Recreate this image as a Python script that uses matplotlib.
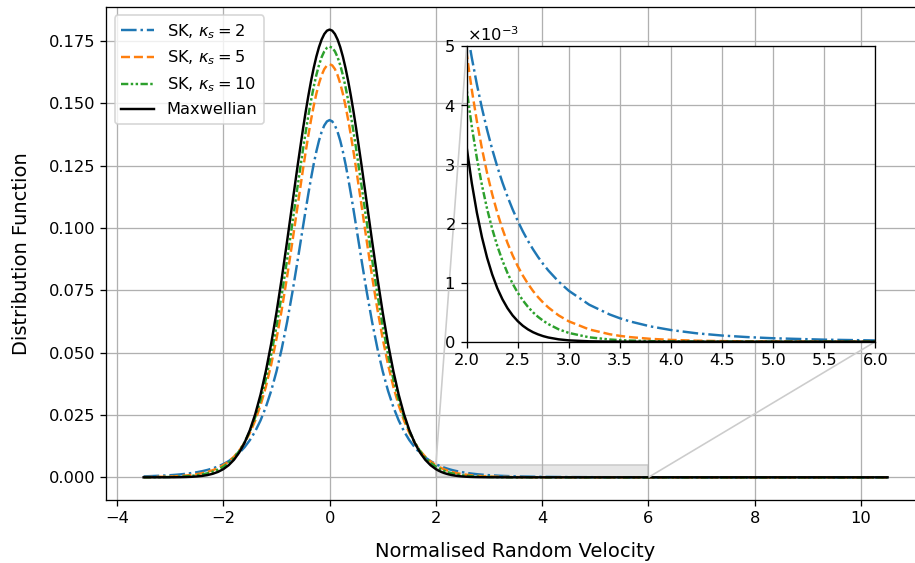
import matplotlib
matplotlib.use('Agg')
import matplotlib.pyplot as plt
from mpl_toolkits.axes_grid1.inset_locator import mark_inset

# normalised random velocity samples
velocity = [
    -3.5, -3.4, -3.2,
    -3.0, -2.9, -2.8, -2.7, -2.6, -2.5, -2.4, -2.3, -2.2, -2.1,
    -2.0, -1.9, -1.8, -1.7, -1.6, -1.5, -1.4, -1.3, -1.2, -1.1,
    -1.0, -0.9, -0.8, -0.7, -0.6, -0.5,
    -0.45, -0.4, -0.35, -0.3, -0.25, -0.2, -0.15, -0.1, -0.05,
    0.0,
    0.05, 0.1, 0.15, 0.2, 0.25, 0.3, 0.35, 0.4, 0.45,
    0.5, 0.6, 0.7, 0.8, 0.9, 1.0,
    1.1, 1.2, 1.3, 1.4, 1.5, 1.6, 1.7, 1.8, 1.9, 2.0,
    2.05, 2.1, 2.15, 2.2, 2.25, 2.3, 2.35, 2.4, 2.45, 2.5, 2.55, 2.6, 2.65, 2.7, 2.75, 2.8,
    2.9, 3.0,
    3.2, 3.4, 3.5, 3.6, 3.8, 4.0, 4.25, 4.5, 4.75, 5.0, 5.5, 6.0,
    7.0, 8.0, 9.0, 10.0, 10.5,
]

sk_kappa2 = [
    0.000396, 0.000460, 0.000625,
    0.000861, 0.001016, 0.001203, 0.001430, 0.001705, 0.002042, 0.002453, 0.002959, 0.003582, 0.004352,
    0.005307, 0.006493, 0.00797, 0.00980, 0.01209, 0.01493, 0.01846, 0.02282, 0.02816, 0.03466,
    0.04246, 0.05166, 0.06230, 0.07425, 0.08721, 0.10064,
    0.10729, 0.11375, 0.11989, 0.12557, 0.13065, 0.13503, 0.13856, 0.14116, 0.14276,
    0.14329,
    0.14276, 0.14116, 0.13856, 0.13503, 0.13065, 0.12557, 0.11989, 0.11375, 0.10729,
    0.10064, 0.08721, 0.07425, 0.06230, 0.05166, 0.04246,
    0.03466, 0.02816, 0.02282, 0.01846, 0.01493, 0.01209, 0.00980, 0.00797, 0.006493, 0.005307,
    0.004804, 0.004352, 0.003947, 0.003582, 0.003254, 0.002959, 0.002693, 0.002453,
    0.002237, 0.002042, 0.001865, 0.001705, 0.001561, 0.001430, 0.001311, 0.001203,
    0.001016, 0.000861,
    0.000625, 0.000460, 0.000396, 0.000342, 0.000258, 0.000197, 0.000142, 0.000104, 0.0000774, 0.0000582,
    0.0000342, 0.0000209,
    0.0000086, 0.0000040, 0.0000020, 0.0000011, 0.0000008,
]

sk_kappa5 = [
    0.0000983, 0.000126, 0.000207,
    0.000344, 0.000445, 0.000578, 0.000751, 0.000979, 0.001277, 0.001668, 0.002181, 0.002852, 0.003729,
    0.004872, 0.006356, 0.00827, 0.01073, 0.01387, 0.01783, 0.02278, 0.02888, 0.03630, 0.04515,
    0.05550, 0.06731, 0.08045, 0.09457, 0.10919, 0.12366,
    0.13059, 0.13718, 0.14331, 0.14889, 0.15381, 0.15798, 0.16131, 0.16374, 0.16522,
    0.16571,
    0.16522, 0.16374, 0.16131, 0.15798, 0.15381, 0.14889, 0.14331, 0.13718, 0.13059,
    0.12366, 0.10919, 0.09457, 0.08045, 0.06731, 0.05550,
    0.04515, 0.03630, 0.02888, 0.02278, 0.01783, 0.01387, 0.01073, 0.00827, 0.006356, 0.004872,
    0.004263, 0.003729, 0.003262, 0.002852, 0.002494, 0.002181, 0.001908, 0.001668,
    0.001460, 0.001277, 0.001118, 0.000979, 0.000857, 0.000751, 0.000659, 0.000578,
    0.000445, 0.000344,
    0.000207, 0.000126, 0.0000983, 0.0000772, 0.0000480, 0.0000302, 0.0000172, 0.0000100, 0.0000059, 0.0000036,
    0.0000014, 0.0000005,
    0.0, 0.0, 0.0, 0.0, 0.0,
]

sk_kappa10 = [
    0.0000261, 0.0000369, 0.0000740,
    0.000148, 0.000210, 0.000297, 0.000418, 0.000589, 0.000828, 0.001160, 0.001618, 0.002247, 0.003105,
    0.004266, 0.005821, 0.00788, 0.01058, 0.01408, 0.01853, 0.02412, 0.03101, 0.03933, 0.04918,
    0.06055, 0.07334, 0.08731, 0.10207, 0.11708, 0.13166,
    0.13856, 0.14508, 0.15110, 0.15654, 0.16131, 0.16533, 0.16853, 0.17086, 0.17228,
    0.17275,
    0.17228, 0.17086, 0.16853, 0.16533, 0.16131, 0.15654, 0.15110, 0.14508, 0.13856,
    0.13166, 0.11708, 0.10207, 0.08731, 0.07334, 0.06055,
    0.04918, 0.03933, 0.03101, 0.02412, 0.01853, 0.01408, 0.01058, 0.00788, 0.005821, 0.004266,
    0.003642, 0.003105, 0.002643, 0.002247, 0.001908, 0.001618, 0.001371, 0.001160,
    0.000981, 0.000828, 0.000699, 0.000589, 0.000496, 0.000418, 0.000353, 0.000297,
    0.000210, 0.000148,
    0.0000740, 0.0000369, 0.0000261, 0.0000185, 0.0000093, 0.0000047, 0.0000020, 0.0000009, 0.0000004, 0.0000002,
    0.0, 0.0,
    0.0, 0.0, 0.0, 0.0, 0.0,
]

maxwellian = [
    0.0000009, 0.0000017, 0.0000064,
    0.0000222, 0.0000400, 0.0000707, 0.000123, 0.000208, 0.000347, 0.000566, 0.000905, 0.001420, 0.002183,
    0.003289, 0.004858, 0.00703, 0.00998, 0.01388, 0.01893, 0.02530, 0.03314, 0.04255, 0.05355,
    0.06607, 0.07989, 0.09469, 0.11002, 0.12529, 0.13986,
    0.14667, 0.15303, 0.15888, 0.16413, 0.16871, 0.17255, 0.17559, 0.17780, 0.17914,
    0.17959,
    0.17914, 0.17780, 0.17559, 0.17255, 0.16871, 0.16413, 0.15888, 0.15303, 0.14667,
    0.13986, 0.12529, 0.11002, 0.09469, 0.07989, 0.06607,
    0.05355, 0.04255, 0.03314, 0.02530, 0.01893, 0.01388, 0.00998, 0.00703, 0.004858, 0.003289,
    0.002686, 0.002183, 0.001765, 0.001420, 0.001137, 0.000905, 0.000718, 0.000566,
    0.000444, 0.000347, 0.000269, 0.000208, 0.000160, 0.000123, 0.0000933, 0.0000707,
    0.0000400, 0.0000222,
    0.0000064, 0.0000017, 0.0000009, 0.0000004, 0.0, 0.0, 0.0, 0.0, 0.0, 0.0,
    0.0, 0.0,
    0.0, 0.0, 0.0, 0.0, 0.0,
]

labels = [r'SK, $\kappa_s = 2$', r'SK, $\kappa_s = 5$', r'SK, $\kappa_s = 10$', 'Maxwellian']
series = [sk_kappa2, sk_kappa5, sk_kappa10, maxwellian]
styles = [('C0', '-.'), ('C1', '--'), ('C2', (0, (3, 1, 1, 1, 1, 1))), ('k', '-')]

DPI = 117
fig = plt.figure(figsize=(915 / DPI, 563 / DPI), dpi=DPI)
ax = fig.add_axes([0.1163, 0.1124, 0.8944, 0.8748])

for ys, lab, (col, ls) in zip(series, labels, styles):
    ax.plot(velocity, ys, color=col, linestyle=ls, label=lab)

ax.set_xlim(-4.2, 11.2)
ax.set_ylim(-0.00898, 0.18856)
ax.grid(True)
ax.set_xlabel('Normalised Random Velocity', fontsize=12, labelpad=10)
ax.set_ylabel('Distribution Function', fontsize=12, labelpad=10.5)
ax.legend(loc='upper left')

# zoomed tail
axins = fig.add_axes([0.5100, 0.3931, 0.4466, 0.5252])
for ys, (col, ls) in zip(series, styles):
    axins.plot(velocity, ys, color=col, linestyle=ls)
axins.set_xlim(2, 6)
axins.set_ylim(0, 0.005)
axins.grid(True)
axins.ticklabel_format(axis='y', style='sci', scilimits=(0, 0), useMathText=True)

mark_inset(ax, axins, loc1=2, loc2=4, fc='0.9', ec='0.8')

fig.savefig('out.png', dpi=DPI)
